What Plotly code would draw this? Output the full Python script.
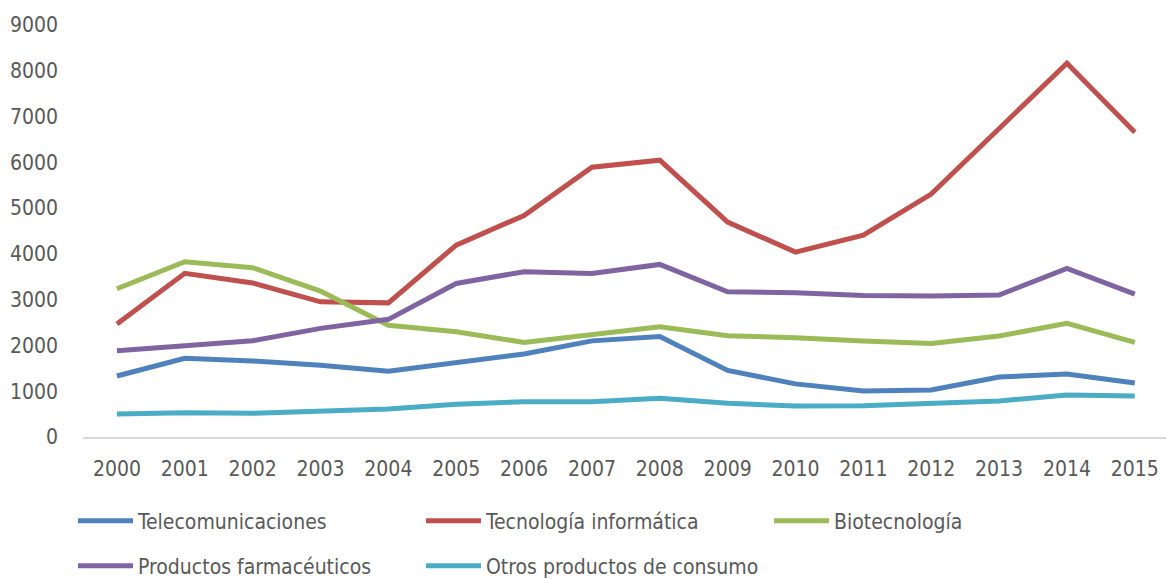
import plotly.graph_objects as go

years = list(range(2000, 2016))
telecomunicaciones = [1332, 1720, 1660, 1568, 1435, 1612, 1812, 2100, 2195, 1455, 1160, 1004, 1026, 1310, 1375, 1179]
tecnologia = [2470, 3576, 3366, 2952, 2930, 4192, 4840, 5895, 6048, 4694, 4039, 4410, 5306, 6725, 8166, 6659]
biotecnologia = [3239, 3828, 3697, 3188, 2440, 2300, 2067, 2227, 2409, 2212, 2168, 2096, 2045, 2205, 2482, 2067]
farmaceuticos = [1884, 1993, 2103, 2373, 2570, 3355, 3610, 3574, 3770, 3173, 3151, 3093, 3079, 3100, 3683, 3122]
otros = [502, 531, 517, 574, 611, 713, 771, 771, 844, 735, 677, 684, 735, 786, 917, 895]

series = [
    ("Telecomunicaciones", telecomunicaciones, "#4F81BD", "legend"),
    ("Tecnología informática", tecnologia, "#C0504D", "legend"),
    ("Biotecnología", biotecnologia, "#9BBB59", "legend"),
    ("Productos farmacéuticos", farmaceuticos, "#8064A2", "legend2"),
    ("Otros productos de consumo", otros, "#4BACC6", "legend2"),
]

FONT = "Liberation Sans Narrow, DejaVu Sans Condensed, Roboto, sans-serif"

fig = go.Figure()
for name, vals, color, lg in series:
    fig.add_trace(go.Scatter(
        x=years, y=vals, name=name, mode="lines",
        line=dict(color=color, width=5), legend=lg,
    ))

legend_common = dict(
    orientation="h", xref="container", yref="container",
    x=0.0626, xanchor="left", yanchor="middle",
    entrywidth=278, entrywidthmode="pixels",
    itemwidth=55, bgcolor="rgba(0,0,0,0)",
    font=dict(family=FONT, size=21, color="#595959"),
)

fig.update_layout(
    width=1166, height=579,
    margin=dict(l=83, r=0, t=25, b=142, autoexpand=False),
    paper_bgcolor="white", plot_bgcolor="white",
    font=dict(family=FONT, size=21, color="#595959"),
    showlegend=True,
    legend=dict(legend_common, y=1 - 521 / 579),
    legend2=dict(legend_common, y=1 - 566 / 579),
    xaxis=dict(
        range=[1999.5, 2015.46], tickmode="array", tickvals=years,
        ticktext=[str(y) for y in years],
        showgrid=False, zeroline=False, showline=True,
        linecolor="#D9D9D9", linewidth=1.5, ticks="",
        ticklabelstandoff=12, automargin=False,
    ),
    yaxis=dict(
        range=[0, 9000], tickmode="array",
        tickvals=list(range(0, 9001, 1000)),
        showgrid=False, zeroline=False, showline=False, ticks="",
        ticklabelstandoff=24, automargin=False,
    ),
)

fig.write_html(
    "out.html",
    config={"displayModeBar": False},
    post_script="document.body.style.margin='0';document.body.style.overflow='hidden';",
)
